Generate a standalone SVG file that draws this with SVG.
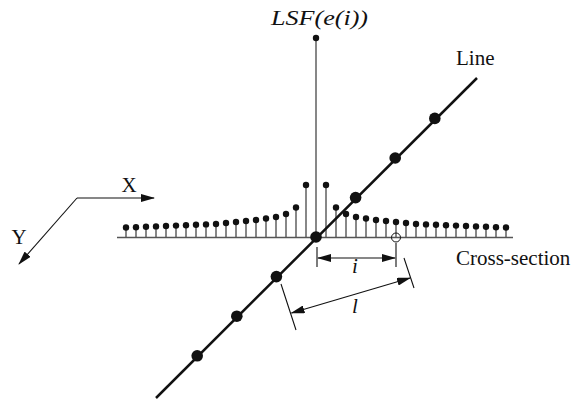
<svg xmlns="http://www.w3.org/2000/svg" width="576" height="400" viewBox="0 0 576 400">
<style>
.stem{stroke:#555;stroke-width:1.4;fill:none}
.sd{fill:#111}
.bd{fill:#111}
.ln{stroke:#111;stroke-width:2.5;fill:none}
.thin{stroke:#111;stroke-width:1.1;fill:none}
text{font-family:'Liberation Serif','DejaVu Serif',serif;font-size:21px;fill:#111}
.it{font-style:italic}
</style>
<defs>
<marker id="ah" viewBox="0 0 14 8" refX="13" refY="4" markerWidth="14" markerHeight="8" markerUnits="userSpaceOnUse" orient="auto-start-reverse">
<path d="M0 0L14 4L0 8Z" fill="#111"/>
</marker>
</defs>
<g id="axes">
<path class="thin" d="M77 198H154" marker-end="url(#ah)"/>
<path class="thin" d="M77 198L19 264" marker-end="url(#ah)"/>
<text x="129" y="192" text-anchor="middle">X</text>
<text x="19" y="244" text-anchor="middle">Y</text>
</g>
<g id="cross-section">
<path class="stem" d="M117 237.5H513"/>
<path class="stem" d="M316 237V38 M306 237V185M326 237V185M296 237V207.5M336 237V207.5M286 237V214M346 237V214M276 237V217M356 237V217M266 237V218.5M366 237V218.5M256 237V220M376 237V220M246 237V221M386 237V221M236 237V222M396 237V222M226 237V223M406 237V223M216 237V224M416 237V224M206 237V224.4M426 237V224.4M196 237V224.8M436 237V224.8M186 237V225.2M446 237V225.2M176 237V225.6M456 237V225.6M166 237V226M466 237V226M156 237V226.4M476 237V226.4M146 237V226.8M486 237V226.8M136 237V227.2M496 237V227.2M126 237V227.5M506 237V227.5"/>
<g class="sd">
<circle cx="316" cy="38" r="3.2"/>
<circle cx="306" cy="185" r="3.2"/><circle cx="326" cy="185" r="3.2"/>
<circle cx="296" cy="207.5" r="3.2"/><circle cx="336" cy="207.5" r="3.2"/>
<circle cx="286" cy="214" r="3.2"/><circle cx="346" cy="214" r="3.2"/>
<circle cx="276" cy="217" r="3.2"/><circle cx="356" cy="217" r="3.2"/>
<circle cx="266" cy="218.5" r="3.2"/><circle cx="366" cy="218.5" r="3.2"/>
<circle cx="256" cy="220" r="3.2"/><circle cx="376" cy="220" r="3.2"/>
<circle cx="246" cy="221" r="3.2"/><circle cx="386" cy="221" r="3.2"/>
<circle cx="236" cy="222" r="3.2"/><circle cx="396" cy="222" r="3.2"/>
<circle cx="226" cy="223" r="3.2"/><circle cx="406" cy="223" r="3.2"/>
<circle cx="216" cy="224" r="3.2"/><circle cx="416" cy="224" r="3.2"/>
<circle cx="206" cy="224.4" r="3.2"/><circle cx="426" cy="224.4" r="3.2"/>
<circle cx="196" cy="224.8" r="3.2"/><circle cx="436" cy="224.8" r="3.2"/>
<circle cx="186" cy="225.2" r="3.2"/><circle cx="446" cy="225.2" r="3.2"/>
<circle cx="176" cy="225.6" r="3.2"/><circle cx="456" cy="225.6" r="3.2"/>
<circle cx="166" cy="226" r="3.2"/><circle cx="466" cy="226" r="3.2"/>
<circle cx="156" cy="226.4" r="3.2"/><circle cx="476" cy="226.4" r="3.2"/>
<circle cx="146" cy="226.8" r="3.2"/><circle cx="486" cy="226.8" r="3.2"/>
<circle cx="136" cy="227.2" r="3.2"/><circle cx="496" cy="227.2" r="3.2"/>
<circle cx="126" cy="227.5" r="3.2"/><circle cx="506" cy="227.5" r="3.2"/>
</g>
<circle cx="396" cy="237.5" r="4.5" fill="none" stroke="#111" stroke-width="1"/>
<text class="it" x="271" y="25" font-size="22" textLength="97" lengthAdjust="spacingAndGlyphs">LSF(e(i))</text>
<text x="456" y="265">Cross-section</text>
</g>
<g id="line">
<path class="ln" d="M156 398L477 78"/>
<g class="bd">
<circle cx="316" cy="237" r="5.8"/>
<circle cx="355.6" cy="197.6" r="5.8"/>
<circle cx="395.2" cy="158" r="5.8"/>
<circle cx="434.8" cy="118.4" r="5.8"/>
<circle cx="276.4" cy="276.6" r="5.8"/>
<circle cx="236.8" cy="316.2" r="5.8"/>
<circle cx="197.2" cy="355.8" r="5.8"/>
</g>
<text x="456" y="65">Line</text>
</g>
<g id="dimensions">
<path class="thin" d="M317 247V267M396 243V267M281 284L296 330M404 258L414 288"/>
<path class="thin" d="M318 258H395" marker-start="url(#ah)" marker-end="url(#ah)"/>
<path class="thin" d="M291.5 313L410 278" marker-start="url(#ah)" marker-end="url(#ah)"/>
<text class="it" x="355" y="273" text-anchor="middle">i</text>
<text class="it" x="355" y="313" text-anchor="middle">l</text>
</g>
</svg>
